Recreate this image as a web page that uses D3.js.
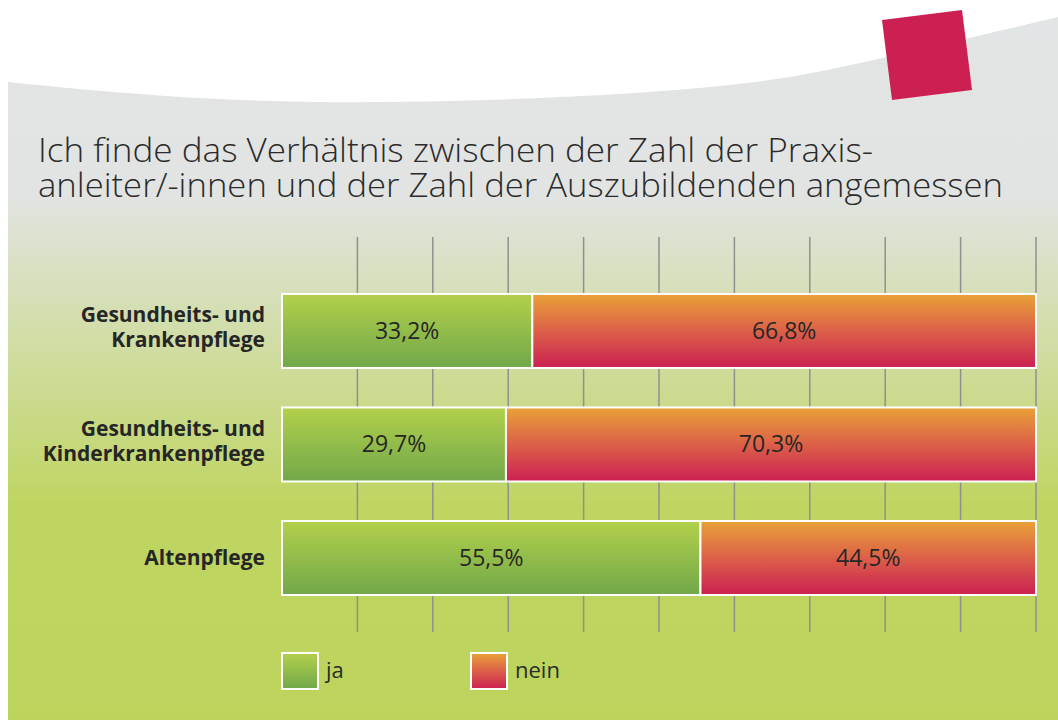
<!DOCTYPE html>
<html>
<head>
<meta charset="utf-8">
<script src="https://cdn.jsdelivr.net/npm/d3@7"></script>
<style>
  html, body { margin: 0; padding: 0; background: #fff; }
  svg { display: block; }
</style>
</head>
<body>
<svg width="1058" height="720"></svg>
<script>
const width = 1058
const height = 720

// data
const categories = [["Gesundheits- und", "Krankenpflege"], ["Gesundheits- und", "Kinderkrankenpflege"], ["Altenpflege"]]
const jaValues = [33.2, 29.7, 55.5]
const neinValues = [66.8, 70.3, 44.5]
const valueLabels = [["33,2%", "66,8%"], ["29,7%", "70,3%"], ["55,5%", "44,5%"]]
const seriesNames = ["ja", "nein"]
const titleLines = ["Ich finde das Verhältnis zwischen der Zahl der Praxis-",
                    "anleiter/-innen und der Zahl der Auszubildenden angemessen"]

const svg = d3.select("svg")
const defs = svg.append("defs")

function vGrad(id, stops) {
    const g = defs.append("linearGradient").attr("id", id)
        .attr("x1", 0).attr("y1", 0).attr("x2", 0).attr("y2", 1)
    stops.forEach(s => g.append("stop").attr("offset", s[0]).attr("stop-color", s[1]))
}
vGrad("bgGrad", [[0, "#e2e5e5"], [0.27, "#e1e4e2"], [0.7, "#bfd562"], [1, "#bcd45c"]])
vGrad("jaGrad", [[0, "#b3d04b"], [1, "#71a84a"]])
vGrad("neinGrad", [[0, "#e9a238"], [0.5, "#dc6048"], [1, "#cb2052"]])
const fills = ["url(#jaGrad)", "url(#neinGrad)"]

// background panel
svg.append("rect")
    .attr("x", 8).attr("y", 0)
    .attr("width", width - 8).attr("height", height)
    .attr("fill", "url(#bgGrad)")

// white curved top
const curvePts = [[0, 81], [8, 82], [200, 98], [450, 101], [700, 88], [860, 63], [1058, 17]]
const curveLine = d3.line().curve(d3.curveNatural)
svg.append("path")
    .attr("d", curveLine(curvePts) + "L1058,0L0,0Z")
    .attr("fill", "#fff")

// pink square
svg.append("polygon")
    .attr("points", "882,20 962,10 972,90 892,100")
    .attr("fill", "#cc1f52")

// title
svg.selectAll(".title")
    .data(titleLines)
    .enter().append("text")
    .attr("class", "title")
    .attr("x", 38)
    .attr("y", (d, i) => 162 + i * 35)
    .attr("font-family", "Open Sans")
    .attr("font-weight", 300)
    .attr("font-size", "33px")
    .attr("fill", "#2b2b2b")
    .attr("textLength", (d, i) => i == 0 ? 835 : 965)
    .attr("lengthAdjust", "spacingAndGlyphs")
    .text(d => d)

// scales
const x = d3.scaleLinear().domain([0, 100]).range([282, 1036])
const y = d3.scaleBand().domain(d3.range(categories.length))
    .range([237, 632]).paddingInner(0.348).paddingOuter(0.414).align(0.606)

// gridlines
svg.append("g")
    .selectAll("line")
    .data(x.ticks(10).filter(t => t > 0))
    .enter().append("line")
    .attr("x1", d => x(d)).attr("x2", d => x(d))
    .attr("y1", 237).attr("y2", 632)
    .attr("stroke", "#8e918e")
    .attr("stroke-width", 1.5)

// bars
const rows = svg.append("g")
    .selectAll("g")
    .data(categories.map((c, i) => ({ cat: c, ja: jaValues[i], nein: neinValues[i], labels: valueLabels[i], i: i })))
    .enter().append("g")
    .attr("transform", d => `translate(0, ${y(d.i)})`)

rows.each(function(d) {
    const g = d3.select(this)
    const segs = [[0, d.ja], [d.ja, d.ja + d.nein]]
    segs.forEach((s, k) => {
        g.append("rect")
            .attr("x", x(s[0])).attr("y", 0)
            .attr("width", x(s[1]) - x(s[0]))
            .attr("height", y.bandwidth())
            .attr("fill", fills[k])
            .attr("stroke", "#fff")
            .attr("stroke-width", 2)
        g.append("text")
            .attr("x", (x(s[0]) + x(s[1])) / 2)
            .attr("y", y.bandwidth() / 2 + 8)
            .attr("text-anchor", "middle")
            .attr("font-family", "Open Sans")
            .attr("font-size", "23px")
            .attr("fill", "#262626")
            .text(d.labels[k])
    })
    // category label
    const n = d.cat.length
    d.cat.forEach((line, j) => {
        g.append("text")
            .attr("x", 265)
            .attr("y", y.bandwidth() / 2 + 7 + (j - (n - 1) / 2) * 25 - (n > 1 ? 3 : 0))
            .attr("text-anchor", "end")
            .attr("font-family", "Open Sans")
            .attr("font-weight", "bold")
            .attr("font-size", "21px")
            .attr("fill", "#262626")
            .text(line)
    })
})

// legend
const legend = svg.selectAll(".legend")
    .data(seriesNames)
    .enter().append("g")
    .attr("class", "legend")
    .attr("transform", (d, i) => `translate(${282 + i * 189}, 653)`)

legend.append("rect")
    .attr("width", 36).attr("height", 36)
    .attr("fill", (d, i) => fills[i])
    .attr("stroke", "#fff")
    .attr("stroke-width", 2)

legend.append("text")
    .attr("x", 44)
    .attr("y", 25)
    .attr("font-family", "Open Sans")
    .attr("font-size", "22px")
    .attr("fill", "#2b2b2b")
    .text(d => d)
</script>
</body>
</html>
